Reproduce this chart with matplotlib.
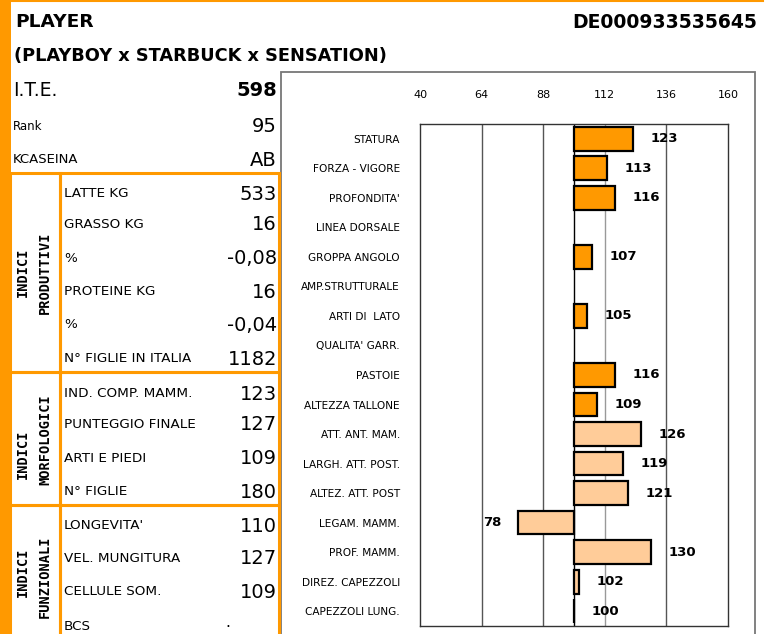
import matplotlib
matplotlib.use("Agg")
import matplotlib.pyplot as plt
from matplotlib.patches import Rectangle
from matplotlib.lines import Line2D
import numpy as np

# ---------------- data ----------------
bull_name = "PLAYER"
bull_pedigree = "(PLAYBOY x STARBUCK x SENSATION)"
bull_id = "DE000933535645"

top_labels = ["I.T.E.", "Rank", "KCASEINA"]
top_values = ["598", "95", "AB"]

prod_labels = ["LATTE KG", "GRASSO KG", "%", "PROTEINE KG", "%", "N° FIGLIE IN ITALIA"]
prod_values = ["533", "16", "-0,08", "16", "-0,04", "1182"]

morf_labels = ["IND. COMP. MAMM.", "PUNTEGGIO FINALE", "ARTI E PIEDI", "N° FIGLIE"]
morf_values = ["123", "127", "109", "180"]

funz_labels = ["LONGEVITA'", "VEL. MUNGITURA", "CELLULE SOM.", "BCS"]
funz_values = ["110", "127", "109", "."]

categories = ["STATURA", "FORZA - VIGORE", "PROFONDITA'", "LINEA DORSALE",
              "GROPPA ANGOLO", "AMP.STRUTTURALE", "ARTI DI  LATO", "QUALITA' GARR.",
              "PASTOIE", "ALTEZZA TALLONE", "ATT. ANT. MAM.", "LARGH. ATT. POST.",
              "ALTEZ. ATT. POST", "LEGAM. MAMM.", "PROF. MAMM.", "DIREZ. CAPEZZOLI",
              "CAPEZZOLI LUNG."]
values = [123, 113, 116, None, 107, None, 105, None, 116, 109,
          126, 119, 121, 78, 130, 102, 100]
group = ["body"] * 10 + ["udder"] * 7
x_ticks = [40, 64, 88, 112, 136, 160]
base_value = 100

# ---------------- figure ----------------
W, H = 767, 634
fig = plt.figure(figsize=(W / 100, H / 100), dpi=100)
fig.patch.set_facecolor("white")

ORANGE = "#FF9900"
LIGHT = "#FFCC99"
FONT = "DejaVu Sans"


def fx(x):
    return x / W


def fy(y):
    return 1 - y / H


def ftext(x, y, s, **kw):
    kw.setdefault("family", FONT)
    kw.setdefault("va", "center_baseline")
    fig.text(fx(x), fy(y), s, **kw)


def frect(x0, y0, x1, y1, **kw):
    fig.add_artist(Rectangle((fx(x0), fy(y1)), fx(x1) - fx(x0), fy(y0) - fy(y1),
                             transform=fig.transFigure, **kw))


def fline(x0, y0, x1, y1, **kw):
    fig.add_artist(Line2D([fx(x0), fx(x1)], [fy(y0), fy(y1)],
                          transform=fig.transFigure, **kw))


# orange frame
frect(0, 0, 11, 640, facecolor=ORANGE, edgecolor="none")
fline(0, 0.8, 763, 0.8, color=ORANGE, lw=1.5)

# chart outer box
frect(281, 72, 755, 660, facecolor="none", edgecolor="#777777", lw=1.3)

# header
ftext(15, 20, bull_name, fontsize=13.3, weight="bold", ha="left")
ftext(14, 54, bull_pedigree, fontsize=12.8, weight="bold", ha="left")
ftext(757, 20, bull_id, fontsize=13.5, weight="bold", ha="right")

# top rows
top_y = [88, 125, 158]
top_sizes = [13.5, 8.5, 9.5]
for lab, val, y, s in zip(top_labels, top_values, top_y, top_sizes):
    ftext(13, y, lab, fontsize=s, ha="left")
    ftext(277, y, val, fontsize=14, ha="right",
          weight="bold" if lab == "I.T.E." else "normal")

# section boxes
sections = [(173, 372), (372, 505), (505, 660)]
for (y0, y1) in sections:
    frect(10, y0, 60, y1, facecolor="none", edgecolor=ORANGE, lw=2.2)
    frect(60, y0, 278.5, y1, facecolor="none", edgecolor=ORANGE, lw=2.2)

# section rows
prod_y = [192, 223, 257, 290, 323, 357]
morf_y = [392, 423, 457, 490]
funz_y = [524, 557, 590, 625]
for labs, vals, ys in [(prod_labels, prod_values, prod_y),
                       (morf_labels, morf_values, morf_y),
                       (funz_labels, funz_values, funz_y)]:
    for lab, val, y in zip(labs, vals, ys):
        ftext(64, y, lab, fontsize=9.7, ha="left")
        if val == ".":
            fig.text(fx(228), fy(627), val, fontsize=11, ha="center",
                     va="baseline", family=FONT)
        else:
            ftext(277, y, val, fontsize=14, ha="right")

# rotated section titles
sec_titles = [("INDICI", 23, 272), ("PRODUTTIVI", 45, 273),
              ("INDICI", 23, 454), ("MORFOLOGICI", 45, 440),
              ("INDICI", 23, 572), ("FUNZIONALI", 45, 577)]
for s, x, y in sec_titles:
    fig.text(fx(x), fy(y), s, rotation=90, ha="center", va="center",
             family="DejaVu Sans Mono", weight="bold", fontsize=9.8)

# ---------------- bar chart ----------------
ax_l, ax_r, ax_t, ax_b = 420, 728, 124, 626
ax = fig.add_axes([fx(ax_l), fy(ax_b), fx(ax_r) - fx(ax_l), fy(ax_t) - fy(ax_b)])
ax.set_xlim(x_ticks[0], x_ticks[-1])
ax.set_ylim(len(categories) - 0.5, -0.5)

for xt in x_ticks[1:-1]:
    ax.axvline(xt, color="#999999" if xt == 112 else "#555555", lw=1.0, zorder=0)
ax.axvline(base_value, color="black", lw=1.0, zorder=1)

ypos = np.arange(len(categories))
for i, (v, g) in enumerate(zip(values, group)):
    if v is None:
        continue
    col = ORANGE if g == "body" else LIGHT
    ax.barh(i, v - base_value, left=base_value, height=0.8, color=col,
            edgecolor="black", lw=1.6, zorder=2)
    if v >= base_value:
        ax.annotate(str(v), (v, i), xytext=(12.5, 0), textcoords="offset points",
                    ha="left", va="center", fontsize=9.5, weight="bold", family=FONT)
    else:
        ax.annotate(str(v), (v, i), xytext=(-11.5, 0), textcoords="offset points",
                    ha="right", va="center", fontsize=9.5, weight="bold", family=FONT)

ax.set_yticks(ypos)
ax.set_yticklabels(categories, fontsize=7.6, family=FONT)
ax.set_xticks(x_ticks)
ax.set_xticklabels([str(t) for t in x_ticks], fontsize=8, family=FONT)
ax.tick_params(axis="x", top=True, labeltop=True, bottom=False, labelbottom=False,
               length=0, pad=17)
ax.tick_params(axis="y", left=False, length=0, pad=14.5)
for sp in ax.spines.values():
    sp.set_color("#333333")
    sp.set_linewidth(1.0)

fig.savefig("out.png", dpi=100, facecolor="white")
